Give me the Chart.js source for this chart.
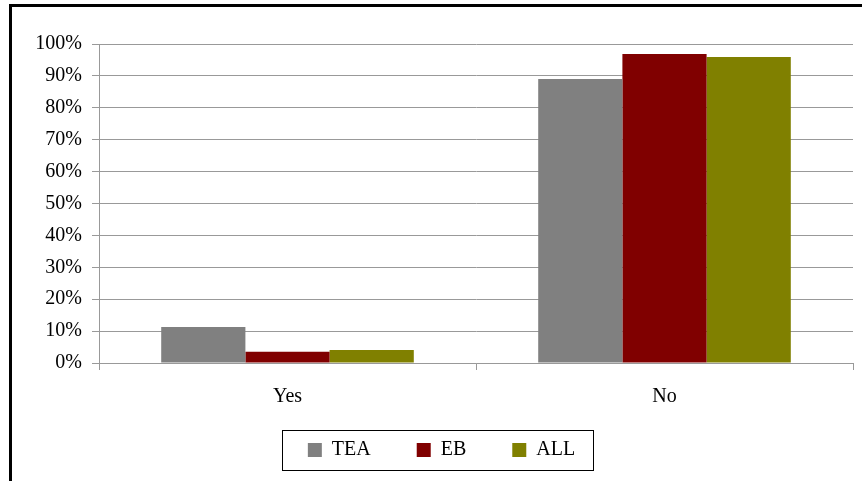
<!DOCTYPE html>
<html>
<head>
<meta charset="utf-8">
<script src="https://cdn.jsdelivr.net/npm/chart.js@4.4.1/dist/chart.umd.min.js"></script>
<style>
html,body{margin:0;padding:0;background:#fff;}
canvas{display:block;}
</style>
</head>
<body>
<canvas id="c" width="862" height="481"></canvas>
<script>
const categories = ["Yes", "No"];
const seriesNames = ["TEA", "EB", "ALL"];
const teaValues = [11.3, 89.0];
const ebValues = [3.5, 96.9];
const allValues = [4.1, 95.9];
const seriesColors = ["#808080", "#800000", "#808000"];

const FONT = "'Liberation Serif', 'Times New Roman', serif";

const framePlugin = {
  id: 'frame',
  beforeDraw(chart) {
    const ctx = chart.ctx;
    ctx.save();
    ctx.fillStyle = '#fff';
    ctx.fillRect(0, 0, chart.width, chart.height);
    ctx.strokeStyle = '#000';
    ctx.lineWidth = 3;
    ctx.beginPath();
    ctx.moveTo(10.5, chart.height);
    ctx.lineTo(10.5, 5.5);
    ctx.lineTo(chart.width, 5.5);
    ctx.stroke();
    ctx.restore();
  },
  afterDraw(chart) {
    const lg = chart.legend;
    if (!lg || !lg.legendHitBoxes || !lg.legendHitBoxes.length) return;
    const hb = lg.legendHitBoxes;
    let l = Infinity, r = -Infinity, t = Infinity, b = -Infinity;
    hb.forEach(h => {
      l = Math.min(l, h.left); r = Math.max(r, h.left + h.width);
      t = Math.min(t, h.top); b = Math.max(b, h.top + h.height);
    });
    const ctx = chart.ctx;
    ctx.save();
    ctx.strokeStyle = '#000';
    ctx.lineWidth = 1;
    ctx.strokeRect(Math.round(l - 26) + 0.5, Math.round(t - 10) + 0.5, Math.round(r - l + 44), Math.round(b - t + 20));
    ctx.restore();
  }
};

const data = {
  labels: categories,
  datasets: [
    { label: seriesNames[0], data: teaValues, backgroundColor: seriesColors[0], borderWidth: 0 },
    { label: seriesNames[1], data: ebValues, backgroundColor: seriesColors[1], borderWidth: 0 },
    { label: seriesNames[2], data: allValues, backgroundColor: seriesColors[2], borderWidth: 0 }
  ]
};

new Chart(document.getElementById('c'), {
  type: 'bar',
  data: data,
  options: {
    responsive: false,
    animation: false,
    devicePixelRatio: 1,
    layout: { padding: { top: 44, right: 9, bottom: 11, left: 30 } },
    datasets: { bar: { categoryPercentage: 0.67, barPercentage: 1.0 } },
    plugins: {
      tooltip: { enabled: false },
      legend: {
        position: 'bottom',
        labels: {
          boxWidth: 14,
          boxHeight: 14,
          padding: 36,
          color: '#000',
          font: { family: FONT, size: 20 },
          generateLabels(chart) {
            const items = Chart.defaults.plugins.legend.labels.generateLabels(chart);
            items.forEach((it, i) => { if (i < items.length - 1) it.text = it.text + '  '; });
            return items;
          }
        }
      }
    },
    scales: {
      x: {
        offset: true,
        grid: { offset: true, drawOnChartArea: false, drawTicks: true, tickLength: 7, color: '#999' },
        border: { display: true, color: '#999' },
        ticks: { color: '#000', font: { family: FONT, size: 20 }, padding: 15 },
        afterFit(s) { s.height = 41; }
      },
      y: {
        min: 0,
        max: 100,
        grid: { color: '#999', tickLength: 7, drawTicks: true },
        border: { display: true, color: '#999' },
        ticks: {
          stepSize: 10,
          color: '#000',
          padding: 10,
          font: { family: FONT, size: 20 },
          callback: v => v + '%'
        },
        afterFit(s) { s.width = 69; }
      }
    }
  },
  plugins: [framePlugin]
});
</script>
</body>
</html>
